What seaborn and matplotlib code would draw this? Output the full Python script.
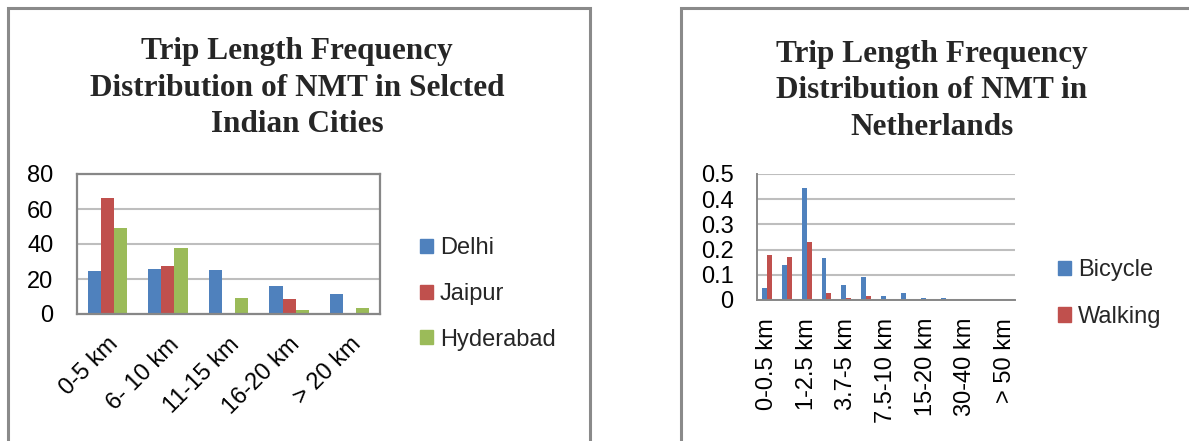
import numpy as np
import pandas as pd
import matplotlib
matplotlib.use("Agg")
import matplotlib.pyplot as plt
import seaborn as sns
from matplotlib.patches import Rectangle, Patch
from matplotlib.ticker import FuncFormatter

# ---------------- data ----------------
india_cats = ["0-5 km", "6- 10 km", "11-15 km", "16-20 km", "> 20 km"]
delhi = [24.4, 25.9, 25.1, 16.0, 11.4]
jaipur = [66.3, 27.2, 0.0, 8.4, 0.0]
hyderabad = [49.1, 37.5, 9.3, 2.5, 3.5]
india_series = ["Delhi", "Jaipur", "Hyderabad"]

nl_cats = ["0-0.5 km", "0.5-1 km", "1-2.5 km", "2.5-3.7 km", "3.7-5 km",
           "5-7.5 km", "7.5-10 km", "10-15 km", "15-20 km", "20-30 km",
           "30-40 km", "40-50 km", "> 50 km"]
bicycle = [0.049, 0.138, 0.443, 0.168, 0.058, 0.090, 0.017, 0.026, 0.008, 0.008, 0.0, 0.0, 0.0]
walking = [0.177, 0.169, 0.229, 0.026, 0.008, 0.017, 0.0, 0.0, 0.0, 0.0, 0.0, 0.0, 0.0]
nl_series = ["Bicycle", "Walking"]

india_title = "Trip Length Frequency\nDistribution of NMT in Selcted\nIndian Cities"
nl_title = "Trip Length Frequency\nDistribution of NMT in\nNetherlands"

BLUE, RED, GREEN = "#4F81BD", "#C0504D", "#9BBB59"

df1 = pd.DataFrame({
    "cat": india_cats * 3,
    "val": delhi + jaipur + hyderabad,
    "series": [s for s in india_series for _ in india_cats],
})
df2 = pd.DataFrame({
    "cat": nl_cats * 2,
    "val": bicycle + walking,
    "series": [s for s in nl_series for _ in nl_cats],
})

# ---------------- figure ----------------
sns.set_theme(style="white")
plt.rcParams["font.family"] = ["Liberation Sans", "DejaVu Sans"]

W, H = 1189, 441
fig = plt.figure(figsize=(W / 100, H / 100), dpi=100)
fig.patch.set_facecolor("white")


def rect(x0, y0, x1, y1):
    return [x0 / W, 1 - y1 / H, (x1 - x0) / W, (y1 - y0) / H]


# panel borders
for (x0, y0, x1, y1) in [(8, 8, 590, 446), (681, 8, 1196, 446)]:
    fig.add_artist(Rectangle((x0 / W, 1 - y1 / H), (x1 - x0) / W, (y1 - y0) / H,
                             transform=fig.transFigure, fill=False,
                             ec="#8A8A8A", lw=2.2))

GRID = "#BEBEBE"
FRAME = "#878787"
TICKFS = 17

# ---------- left chart ----------
ax1 = fig.add_axes(rect(77, 174, 380, 314))
sns.barplot(data=df1, x="cat", y="val", hue="series", order=india_cats,
            hue_order=india_series, palette=[BLUE, RED, GREEN],
            width=0.65, saturation=1, linewidth=0, ax=ax1, legend=False)
ax1.set_ylim(0, 80)
ax1.set_yticks(np.arange(0, 81, 20))
ax1.set_xlim(-0.5, 4.5)
ax1.yaxis.grid(True, color=GRID, lw=1.5)
ax1.set_axisbelow(True)
for sp in ax1.spines.values():
    sp.set_visible(True)
    sp.set_color(FRAME)
    sp.set_linewidth(1.6)
ax1.set_xlabel("")
ax1.set_ylabel("")
ax1.tick_params(axis="y", length=0, pad=17, labelsize=TICKFS, colors="black")
ax1.tick_params(axis="x", length=0, pad=14, labelsize=TICKFS, colors="black")
ax1.set_xticks(range(len(india_cats)))
ax1.set_xticklabels(india_cats, rotation=45, ha="right", rotation_mode="anchor")

ax1.legend(handles=[Patch(color=c, label=l) for c, l in zip([BLUE, RED, GREEN], india_series)],
           loc="center left", bbox_to_anchor=(420 / W, 1 - 294 / H),
           bbox_transform=fig.transFigure, frameon=False, fontsize=TICKFS,
           handlelength=0.55, handleheight=0.55, handletextpad=0.3,
           labelspacing=1.0, borderpad=0, borderaxespad=0)

fig.text(297 / W, 1 - 88 / H, india_title, ha="center", va="center",
         fontsize=22.5, fontweight="bold", family="Liberation Serif",
         linespacing=1.36)

# ---------- right chart ----------
ax2 = fig.add_axes(rect(757, 174, 1015, 300))
sns.barplot(data=df2, x="cat", y="val", hue="series", order=nl_cats,
            hue_order=nl_series, palette=[BLUE, RED],
            width=0.5, saturation=1, linewidth=0, ax=ax2, legend=False)
ax2.set_ylim(0, 0.5)
ax2.set_yticks(np.arange(0, 0.51, 0.1))
ax2.yaxis.set_major_formatter(FuncFormatter(lambda v, p: "0" if abs(v) < 1e-9 else f"{v:.1f}"))
ax2.set_xlim(-0.5, len(nl_cats) - 0.5)
ax2.yaxis.grid(True, color=GRID, lw=1.5)
ax2.set_axisbelow(True)
ax2.spines["top"].set_visible(False)
ax2.spines["right"].set_visible(False)
for s in ("left", "bottom"):
    ax2.spines[s].set_visible(True)
    ax2.spines[s].set_color(FRAME)
    ax2.spines[s].set_linewidth(1.4)
ax2.set_xlabel("")
ax2.set_ylabel("")
ax2.tick_params(axis="y", length=0, pad=17, labelsize=TICKFS, colors="black")
ax2.tick_params(axis="x", length=0, pad=13, labelsize=TICKFS, colors="black")
ax2.set_xticks(range(0, len(nl_cats), 2))
ax2.set_xticklabels(nl_cats[::2], rotation=90, ha="center", va="top")

ax2.legend(handles=[Patch(color=c, label=l) for c, l in zip([BLUE, RED], nl_series)],
           loc="center left", bbox_to_anchor=(1058 / W, 1 - 293.5 / H),
           bbox_transform=fig.transFigure, frameon=False, fontsize=TICKFS,
           handlelength=0.55, handleheight=0.55, handletextpad=0.3,
           labelspacing=1.05, borderpad=0, borderaxespad=0)

fig.text(932 / W, 1 - 91 / H, nl_title, ha="center", va="center",
         fontsize=22.5, fontweight="bold", family="Liberation Serif",
         linespacing=1.36)

fig.savefig("out.png", dpi=100)
